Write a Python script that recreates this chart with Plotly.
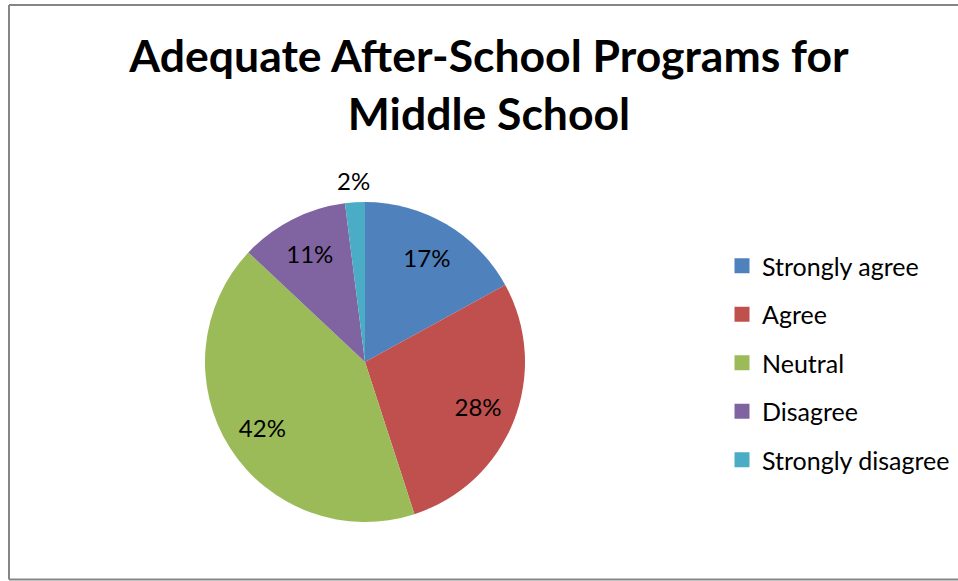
import plotly.graph_objects as go

labels = ["Strongly agree", "Agree", "Neutral", "Disagree", "Strongly disagree"]
values = [17, 28, 42, 11, 2]
colors = ["#4F81BD", "#C0504D", "#9BBB59", "#8064A2", "#4BACC6"]
# which slices get their label in the inner ring, and which just outside the pie
inner_label = [True, True, True, True, False]

W, H = 958, 581
cx, cy, r = 365, 362, 160
r_out = 193.5  # ring for the label set just above the pie edge


def dom(rad):
    return dict(x=[(cx - rad) / W, (cx + rad) / W], y=[(H - cy - rad) / H, (H - cy + rad) / H])


pct = "%{percent:.0%}"
transparent = ["rgba(0,0,0,0)"] * len(values)

fig = go.Figure()
# visible pie
fig.add_trace(go.Pie(
    labels=labels, values=values,
    marker=dict(colors=colors, line=dict(width=0)),
    sort=False, direction="clockwise", rotation=0,
    textinfo="none", showlegend=False, domain=dom(r),
    hoverinfo="label+percent",
))
# transparent ring carrying the inside percentage labels
fig.add_trace(go.Pie(
    labels=labels, values=values, hole=0.52,
    marker=dict(colors=transparent, line=dict(width=0)),
    sort=False, direction="clockwise", rotation=0,
    texttemplate=[pct if f else "" for f in inner_label],
    textposition="inside",
    insidetextorientation="horizontal",
    textfont=dict(family="Lato", size=24, color="black"),
    showlegend=False, domain=dom(r), hoverinfo="skip",
))
# transparent larger pie carrying the label of the small slice just outside the edge
fig.add_trace(go.Pie(
    labels=labels, values=values,
    marker=dict(colors=transparent, line=dict(width=0)),
    sort=False, direction="clockwise", rotation=0,
    texttemplate=["" if f else pct for f in inner_label],
    textposition="inside",
    insidetextorientation="horizontal",
    textfont=dict(family="Lato", size=24, color="black"),
    showlegend=False, domain=dom(r_out), hoverinfo="skip",
))
# legend entries
for i, (lab, col) in enumerate(zip(labels, colors)):
    fig.add_trace(go.Scatter(
        x=[None], y=[None], mode="markers", name=lab,
        marker=dict(symbol="square", size=15, color=col),
        legendgroup=str(i), showlegend=True, hoverinfo="skip",
    ))

border = dict(color="#868686", width=2)
fig.update_layout(
    width=W, height=H,
    margin=dict(l=0, r=0, t=0, b=0),
    paper_bgcolor="white", plot_bgcolor="white",
    xaxis=dict(visible=False), yaxis=dict(visible=False),
    uniformtext=dict(minsize=24, mode="show"),
    title=dict(
        text="<b>Adequate After-School Programs for<br>Middle School</b>",
        font=dict(family="Lato", size=44.5, color="black"),
        x=489 / W, xanchor="center",
        y=1 - 72 / H, yanchor="top",
    ),
    legend=dict(
        x=722 / W, xanchor="left",
        y=1 - 243 / H, yanchor="top",
        font=dict(family="Lato", size=25, color="black"),
        itemwidth=30,
        tracegroupgap=13,
        bgcolor="rgba(0,0,0,0)",
    ),
    shapes=[
        dict(type="line", xref="paper", yref="paper", x0=9 / W, x1=1,
             y0=1 - 5 / H, y1=1 - 5 / H, line=border),
        dict(type="line", xref="paper", yref="paper", x0=9 / W, x1=1,
             y0=1 - 579.5 / H, y1=1 - 579.5 / H, line=border),
        dict(type="line", xref="paper", yref="paper", x0=9 / W, x1=9 / W,
             y0=1 - 579.5 / H, y1=1 - 5 / H, line=border),
    ],
)

fig.write_html("out.html", config={"displayModeBar": False},
               post_script="document.body.style.margin='0';")
